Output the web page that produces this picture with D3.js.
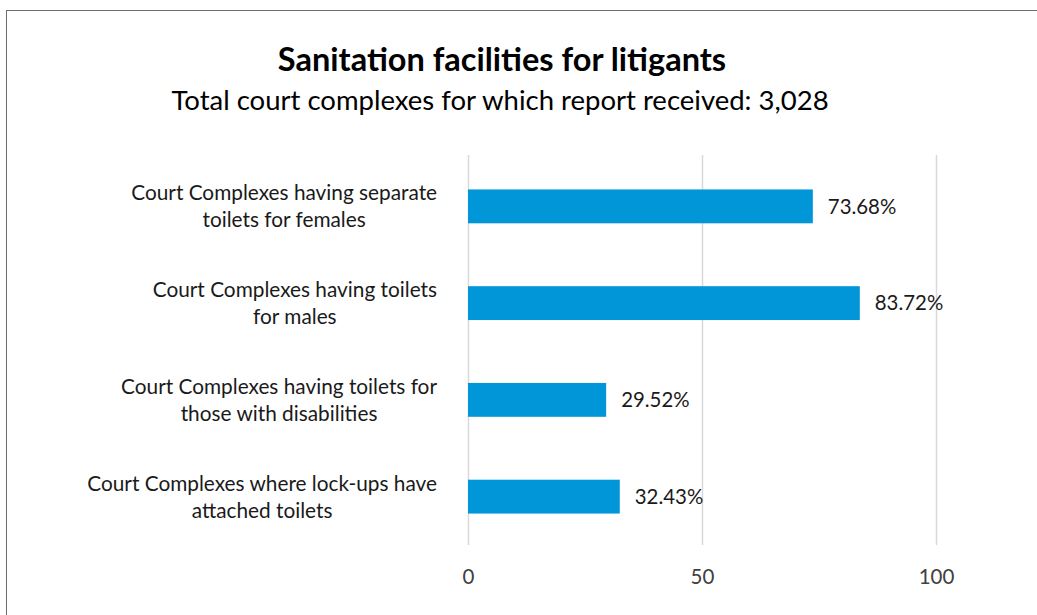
<!DOCTYPE html>
<html>
<head>
<meta charset="utf-8">
<script src="https://cdn.jsdelivr.net/npm/d3@7"></script>
<style>
  body { margin: 0; background: #fff; }
  text { font-family: Lato, "Open Sans", sans-serif; }
</style>
</head>
<body>
<script>
//chart data
var categories = [
    ["Court Complexes having separate", "toilets for females"],
    ["Court Complexes having toilets", "for males"],
    ["Court Complexes having toilets for", "those with disabilities"],
    ["Court Complexes where lock-ups have", "attached toilets"]
];
var values = [73.68, 83.72, 29.52, 32.43];
var tickValues = [0, 50, 100];
var title = "Sanitation facilities for litigants";
var subtitle = "Total court complexes for which report received: 3,028";

(function () {
    var width = 1037, height = 615;
    var svg = d3.select("body").append("svg")
        .attr("width", width)
        .attr("height", height);

    //outer frame
    svg.append("rect")
        .attr("x", 6.5).attr("y", 10.5)
        .attr("width", 1040).attr("height", 620)
        .attr("fill", "#fff")
        .attr("stroke", "#6e6e6e")
        .attr("stroke-width", 1);

    //titles
    svg.append("text")
        .attr("x", 502).attr("y", 71)
        .attr("text-anchor", "middle")
        .attr("font-size", 32.5)
        .attr("font-weight", "bold")
        .attr("fill", "#000")
        .text(title);
    svg.append("text")
        .attr("x", 500).attr("y", 110)
        .attr("text-anchor", "middle")
        .attr("font-size", 27.5)
        .attr("fill", "#000")
        .text(subtitle);

    //scales
    var x = d3.scaleLinear().domain([0, 100]).range([468, 936]);
    var y = d3.scaleBand()
        .domain(d3.range(categories.length))
        .range([158, 545])
        .paddingInner(0.65)
        .paddingOuter(0.325);

    //gridlines
    svg.selectAll(".grid")
        .data(tickValues)
        .enter()
        .append("line")
        .attr("class", "grid")
        .attr("x1", function (d) { return x(d) + 0.5; })
        .attr("x2", function (d) { return x(d) + 0.5; })
        .attr("y1", 155)
        .attr("y2", 545)
        .attr("stroke", "#d9d9d9")
        .attr("stroke-width", 1.5);

    //x axis labels
    var xAxis = d3.axisBottom(x).tickValues(tickValues).tickSize(0).tickPadding(0);
    var gx = svg.append("g")
        .attr("transform", "translate(0,569)")
        .call(xAxis);
    gx.select(".domain").remove();
    gx.selectAll("text")
        .attr("font-size", 20.5)
        .attr("font-family", "Lato, sans-serif")
        .attr("fill", "#404040")
        .attr("dy", "0.71em");

    //bars
    svg.selectAll(".bar")
        .data(values)
        .enter()
        .append("rect")
        .attr("class", "bar")
        .attr("x", x(0))
        .attr("y", function (d, i) { return y(i); })
        .attr("width", function (d) { return x(d) - x(0); })
        .attr("height", y.bandwidth())
        .attr("fill", "#0096d8");

    //value labels
    svg.selectAll(".val")
        .data(values)
        .enter()
        .append("text")
        .attr("class", "val")
        .attr("x", function (d) { return x(d) + 15; })
        .attr("y", function (d, i) { return y(i) + y.bandwidth() / 2; })
        .attr("dy", "0.35em")
        .attr("font-size", 20.4)
        .attr("fill", "#1a1a1a")
        .text(function (d) { return d.toFixed(2) + "%"; });

    //category labels: lines centred on each other, block right-aligned to the axis
    var labelRight = 437;
    var labels = svg.selectAll(".cat")
        .data(categories)
        .enter()
        .append("text")
        .attr("class", "cat")
        .attr("text-anchor", "middle")
        .attr("font-size", 20.8)
        .attr("fill", "#1a1a1a")
        .attr("y", function (d, i) { return y(i) + y.bandwidth() / 2; });
    labels.selectAll("tspan")
        .data(function (d) { return d; })
        .enter()
        .append("tspan")
        .attr("dy", function (d, j) { return j === 0 ? -6 : 27; })
        .text(function (d) { return d; });
    labels.each(function () {
        var spans = d3.select(this).selectAll("tspan");
        var maxW = 0;
        spans.each(function () { maxW = Math.max(maxW, this.getComputedTextLength()); });
        spans.attr("x", labelRight - maxW / 2);
    });
})();
</script>
</body>
</html>
